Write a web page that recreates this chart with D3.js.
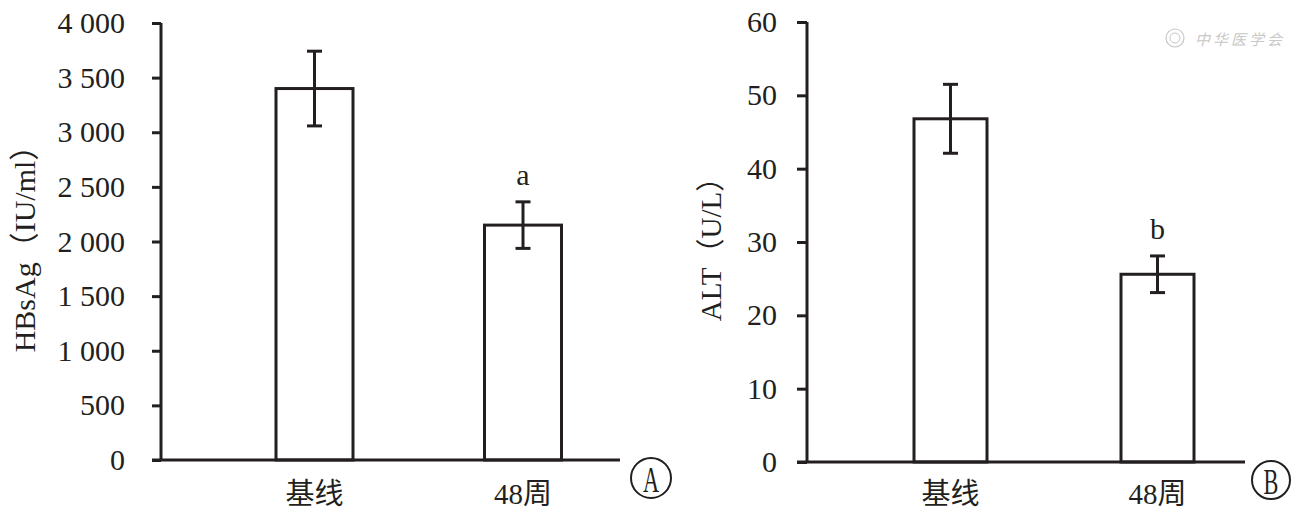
<!DOCTYPE html>
<html>
<head>
<meta charset="utf-8">
<script src="https://cdn.jsdelivr.net/npm/d3@7"></script>
<style>
  html, body { margin: 0; padding: 0; background: #fff; }
  svg { display: block; }
</style>
</head>
<body>
<div id="chart"></div>
<script>
// Data
const categories = ["基线", "48周"];

const hbsagMean = [3400, 2150];
const hbsagErr = [342, 213];
const hbsagSig = ["", "a"];
const hbsagTicks = [0, 500, 1000, 1500, 2000, 2500, 3000, 3500, 4000];

const altMean = [46.8, 25.6];
const altErr = [4.7, 2.5];
const altSig = ["", "b"];
const altTicks = [0, 10, 20, 30, 40, 50, 60];

const INK = "#231f20";
const SERIF = "'Liberation Serif', 'Times New Roman', 'Noto Sans CJK SC', serif";

const width = 1303, height = 514;

const svg = d3.select("#chart").append("svg")
    .attr("width", width)
    .attr("height", height)
    .style("font-family", SERIF);

// thousands separated by a space: "4 000"
const spaceFmt = d3.formatLocale({ decimal: ".", thousands: " ", grouping: [3], currency: ["", ""] }).format(",");

const panels = [
    {
        mean: hbsagMean, err: hbsagErr, sig: hbsagSig, ticks: hbsagTicks, max: 4000,
        fmt: spaceFmt, title: "HBsAg（IU/ml）", titleSize: 30, titleX: 24,
        axisX: 161, top: 23, bottom: 460, centers: [314.5, 523], barW: 77,
        axisEnd: 620, tickSize: 9, tickPad: 27, badge: "A", badgeX: 651, badgeY: 478, badgeR: 20
    },
    {
        mean: altMean, err: altErr, sig: altSig, ticks: altTicks, max: 60,
        fmt: d3.format("d"), title: "ALT（U/L）", titleSize: 29, titleX: 711,
        axisX: 807, top: 22, bottom: 462, centers: [950.5, 1157.5], barW: 73,
        axisEnd: 1245, tickSize: 10, tickPad: 20, badge: "B", badgeX: 1271, badgeY: 480, badgeR: 19
    }
];

panels.forEach(p => drawPanel(p));

function drawPanel(p) {
    const y = d3.scaleLinear().domain([0, p.max]).range([p.bottom, p.top]);
    const x = d3.scalePoint().domain(categories).range(p.centers);

    const g = svg.append("g");

    // bars
    g.selectAll("rect.bar")
        .data(categories)
        .join("rect")
        .attr("class", "bar")
        .attr("x", d => x(d) - p.barW / 2)
        .attr("y", (d, i) => y(p.mean[i]))
        .attr("width", p.barW)
        .attr("height", (d, i) => y(0) - y(p.mean[i]))
        .attr("fill", "#fff")
        .attr("stroke", INK)
        .attr("stroke-width", 3);

    // error bars
    const eb = g.selectAll("g.err")
        .data(categories)
        .join("g")
        .attr("class", "err")
        .attr("stroke", INK)
        .attr("stroke-width", 3);

    eb.append("line")
        .attr("x1", d => x(d)).attr("x2", d => x(d))
        .attr("y1", (d, i) => y(p.mean[i] + p.err[i]))
        .attr("y2", (d, i) => y(p.mean[i] - p.err[i]));
    eb.append("line")
        .attr("x1", d => x(d) - 7.5).attr("x2", d => x(d) + 7.5)
        .attr("y1", (d, i) => y(p.mean[i] + p.err[i]))
        .attr("y2", (d, i) => y(p.mean[i] + p.err[i]));
    eb.append("line")
        .attr("x1", d => x(d) - 7.5).attr("x2", d => x(d) + 7.5)
        .attr("y1", (d, i) => y(p.mean[i] - p.err[i]))
        .attr("y2", (d, i) => y(p.mean[i] - p.err[i]));

    // significance letters
    g.selectAll("text.sig")
        .data(categories)
        .join("text")
        .attr("class", "sig")
        .attr("x", d => x(d))
        .attr("y", (d, i) => y(p.mean[i] + p.err[i]) - 17)
        .attr("text-anchor", "middle")
        .attr("font-size", 30)
        .attr("fill", INK)
        .text((d, i) => p.sig[i]);

    // y axis
    const yAxis = g.append("g")
        .attr("transform", `translate(${p.axisX},0)`)
        .call(d3.axisLeft(y)
            .tickValues(p.ticks)
            .tickFormat(p.fmt)
            .tickSize(p.tickSize)
            .tickPadding(p.tickPad));
    yAxis.select(".domain")
        .attr("d", `M0,${p.top}V${p.bottom}`)
        .attr("stroke", INK)
        .attr("stroke-width", 3);
    yAxis.selectAll(".tick line").attr("stroke", INK).attr("stroke-width", 3);
    yAxis.selectAll(".tick text")
        .attr("font-size", 30)
        .attr("font-family", SERIF)
        .attr("fill", INK);

    // x axis baseline
    g.append("line")
        .attr("x1", p.axisX - p.tickSize)
        .attr("x2", p.axisEnd)
        .attr("y1", y(0)).attr("y2", y(0))
        .attr("stroke", INK)
        .attr("stroke-width", 3);

    // category labels
    g.selectAll("text.cat")
        .data(categories)
        .join("text")
        .attr("class", "cat")
        .attr("x", d => x(d))
        .attr("y", 494)
        .attr("dominant-baseline", "central")
        .attr("text-anchor", "middle")
        .attr("font-size", 29)
        .attr("fill", INK)
        .text(d => d);

    // y axis title
    g.append("text")
        .attr("transform", `translate(${p.titleX},${(p.top + p.bottom) / 2}) rotate(-90)`)
        .attr("text-anchor", "middle")
        .attr("dominant-baseline", "central")
        .attr("font-size", p.titleSize)
        .attr("fill", INK)
        .text(p.title);

    // circled panel letter
    g.append("circle")
        .attr("cx", p.badgeX).attr("cy", p.badgeY).attr("r", p.badgeR)
        .attr("fill", "none")
        .attr("stroke", INK)
        .attr("stroke-width", 2);
    g.append("text")
        .attr("transform", `translate(${p.badgeX},${p.badgeY + 1}) scale(0.62,1)`)
        .attr("text-anchor", "middle")
        .attr("dominant-baseline", "central")
        .attr("font-size", 36)
        .attr("fill", INK)
        .text(p.badge);
}

// faint publisher watermark, top right
const wm = svg.append("g").attr("fill", "none").attr("stroke", "#c8c8c8");
wm.append("circle").attr("cx", 1175).attr("cy", 38).attr("r", 9).attr("stroke-width", 1.2);
wm.append("circle").attr("cx", 1175).attr("cy", 38).attr("r", 5).attr("stroke-width", 1);
svg.append("text")
    .attr("x", 1195).attr("y", 38)
    .attr("dominant-baseline", "central")
    .attr("font-size", 15)
    .attr("letter-spacing", 3)
    .attr("font-style", "italic")
    .attr("font-family", "'Noto Sans CJK SC', sans-serif")
    .attr("fill", "#c8c8c8")
    .text("中华医学会");
</script>
</body>
</html>
